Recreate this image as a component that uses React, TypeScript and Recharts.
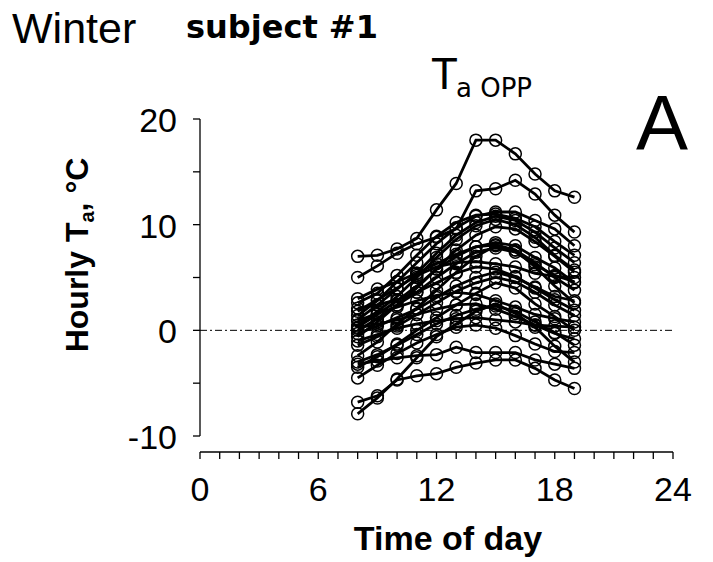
import React from 'react';
import { LineChart, Line, XAxis, YAxis, ReferenceLine } from 'recharts';

// hours of day that were recorded
const HOURS = [8, 9, 10, 11, 12, 13, 14, 15, 16, 17, 18, 19];

// one list per day, hourly Ta in °C
const DAYS: number[][] = [
  [7.0, 7.1, 7.7, 8.7, 11.4, 13.9, 18.0, 18.0, 16.7, 14.8, 13.2, 12.6],
  [5.0, 6.1, 7.3, 8.2, 8.8, 9.6, 13.2, 13.4, 14.2, 12.9, 10.9, 9.3],
  [3.0, 3.9, 4.6, 5.4, 6.3, 7.2, 7.9, 8.1, 7.6, 6.4, 5.0, 3.8],
  [2.6, 3.5, 5.2, 7.1, 8.9, 10.2, 10.9, 11.0, 10.6, 9.8, 8.4, 7.1],
  [2.1, 2.4, 2.9, 3.6, 4.5, 5.4, 6.0, 5.8, 5.1, 4.0, 2.9, 1.9],
  [1.4, 2.8, 4.6, 6.4, 8.2, 9.7, 10.8, 11.2, 11.2, 10.4, 9.6, 8.0],
  [1.0, 2.4, 3.9, 5.4, 7.3, 9.0, 10.2, 10.8, 10.4, 9.3, 7.8, 6.4],
  [0.9, 1.6, 2.2, 2.8, 3.3, 3.6, 3.4, 2.8, 2.2, 1.5, 1.1, 0.8],
  [0.5, 1.8, 3.2, 5.0, 6.9, 8.6, 9.9, 10.5, 10.0, 8.8, 7.1, 5.7],
  [0.3, 1.5, 2.8, 4.2, 5.8, 7.0, 7.9, 8.3, 8.0, 6.9, 5.9, 4.5],
  [0.2, 0.6, 1.0, 1.5, 2.0, 2.4, 2.5, 2.0, 1.3, 0.5, -0.3, -0.8],
  [0.0, 1.1, 2.4, 3.6, 5.0, 6.3, 7.4, 7.8, 7.4, 6.2, 5.2, 4.6],
  [-0.3, 0.4, 1.2, 2.0, 3.1, 4.2, 5.0, 5.5, 5.0, 4.1, 3.2, 2.8],
  [-0.6, 0.8, 2.4, 4.0, 5.8, 7.6, 9.0, 9.8, 9.6, 8.4, 7.0, 5.5],
  [-1.4, -0.6, 0.4, 1.5, 2.6, 3.7, 4.5, 5.0, 4.6, 3.6, 2.4, 1.4],
  [-2.4, -1.1, 0.6, 2.1, 3.8, 5.5, 7.0, 8.0, 7.6, 6.0, 4.2, 2.6],
  [-3.0, -2.3, -1.4, -0.4, 0.6, 1.4, 2.0, 2.3, 1.8, 0.8, -0.2, -1.4],
  [-3.5, -2.5, -1.3, 0.0, 1.2, 2.4, 3.5, 4.5, 4.0, 2.5, 1.3, 0.0],
  [-4.5, -3.3, -2.2, -1.2, -0.4, 0.3, 0.5, 0.2, -0.5, -1.3, -2.0, -2.1],
  [-7.9, -6.4, -4.6, -2.6, -0.6, 0.6, 1.8, 2.5, 1.6, 0.3, -1.5, -3.0],
  [-3.2, -2.9, -2.6, -2.4, -2.3, -1.6, -2.1, -2.1, -2.1, -2.8, -3.2, -3.6],
  [-6.8, -6.2, -4.7, -4.3, -4.1, -3.5, -3.1, -2.8, -2.8, -3.6, -4.7, -5.5],
  [1.8, 2.9, 4.0, 5.2, 6.0, 6.4, 6.5, 6.3, 6.0, 5.4, 5.1, 5.0],
  [-1.0, -0.4, 0.2, 0.6, 0.9, 1.1, 1.2, 1.0, 0.8, 0.5, 0.4, 0.3],
];

const X_TICKS = [0, 1, 2, 3, 4, 5, 6, 7, 8, 9, 10, 11, 12, 13, 14, 15, 16, 17, 18, 19, 20, 21, 22, 23, 24];
const X_LABELS = [0, 6, 12, 18, 24];
const Y_TICKS = [-10, -5, 0, 5, 10, 15, 20];
const Y_LABELS = [-10, 0, 10, 20];

const data = HOURS.map((hour, i) => {
  const row: any = { hour };
  DAYS.forEach((d, j) => { row[`d${j}`] = d[i]; });
  return row;
});

const SANS = 'Liberation Sans, Arial, sans-serif';

const XTick = ({ x, payload }: any) =>
  X_LABELS.includes(payload.value) ? (
    <text x={x} y={501} textAnchor="middle" fontSize={34} fontFamily={SANS} fill="#000">
      {payload.value}
    </text>
  ) : null;

const YTick = ({ y, payload }: any) =>
  Y_LABELS.includes(payload.value) ? (
    <text x={177} y={y + 13} textAnchor="end" fontSize={34} fontFamily={SANS} fill="#000">
      {payload.value}
    </text>
  ) : null;

export default function App() {
  return (
    <div style={{ position: 'absolute', left: 0, top: 0, width: 713, height: 562, background: '#fff' }}>
      <LineChart width={713} height={562} data={data} margin={{ top: 119, right: 40, bottom: 0, left: 0 }}>
        <XAxis
          dataKey="hour"
          type="number"
          domain={[0, 24]}
          ticks={X_TICKS}
          interval={0}
          height={110}
          tickSize={7}
          stroke="#000"
          strokeWidth={1.3}
          tick={<XTick />}
        />
        <YAxis
          type="number"
          domain={[-11.514, 20]}
          ticks={Y_TICKS}
          interval={0}
          width={200}
          tickSize={7}
          axisLine={false}
          tickLine={{ stroke: '#000', strokeWidth: 1.3 }}
          tick={<YTick />}
        />
        <ReferenceLine segment={[{ x: 0, y: -10 }, { x: 0, y: 20 }]} stroke="#000" strokeWidth={1.3} />
        <ReferenceLine y={0} stroke="#000" strokeWidth={1} strokeDasharray="7 3 2 3" />
        {DAYS.map((_, j) => (
          <Line
            key={j}
            dataKey={`d${j}`}
            type="linear"
            stroke="#000"
            strokeWidth={2.8}
            dot={{ r: 6, stroke: '#000', strokeWidth: 1.5, fill: 'none' }}
            activeDot={false}
            isAnimationActive={false}
          />
        ))}
        <text x={12} y={43} fontSize={43} fontFamily={SANS} fill="#000">Winter</text>
        <text x={186} y={38} fontSize={32} fontWeight="bold" fontFamily="DejaVu Sans, sans-serif" fill="#000">subject #1</text>
        <text x={431} y={89} fontSize={44} fontFamily={SANS} fill="#000">T</text>
        <text x={456} y={97} fontSize={26} fontFamily="DejaVu Sans, sans-serif" fill="#000">a OPP</text>
        <text x={636} y={150} fontSize={78} fontFamily={SANS} fill="#000">A</text>
        <text x={448} y={550} textAnchor="middle" fontSize={34} fontWeight="bold" fontFamily={SANS} fill="#000">Time of day</text>
        <text transform="rotate(-90)" x={-255} y={88} textAnchor="middle" fontSize={32} fontWeight="bold" fontFamily={SANS} fill="#000">
          Hourly T<tspan fontSize={20} dy={6}>a</tspan><tspan dy={-6}>, °C</tspan>
        </text>
      </LineChart>
    </div>
  );
}
